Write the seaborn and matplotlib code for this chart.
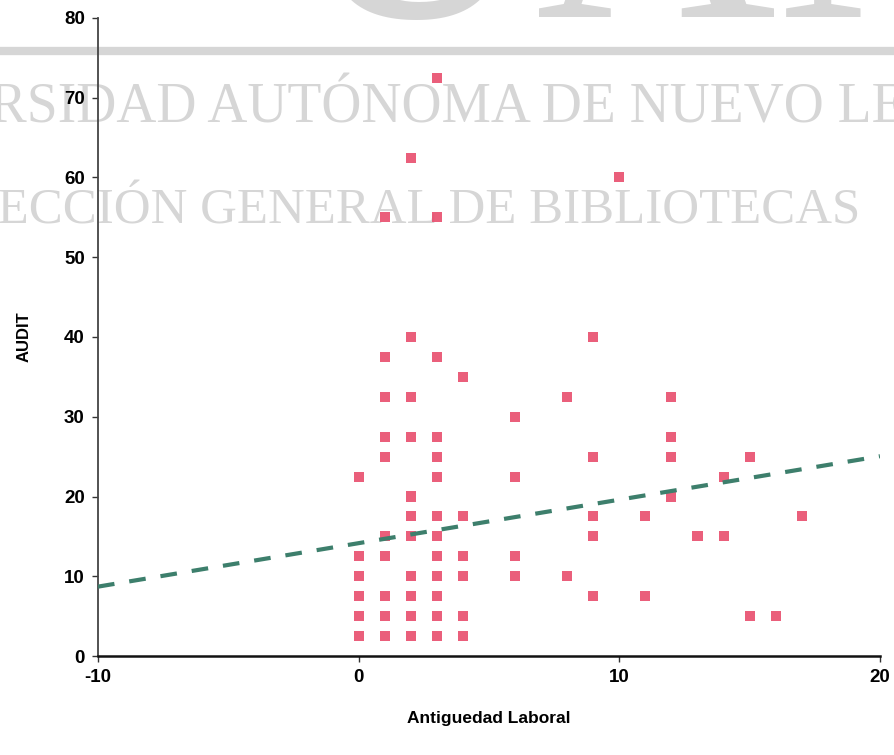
import numpy as np
import pandas as pd
import seaborn as sns
import matplotlib.pyplot as plt

# datos
antiguedad = [0, 0, 0, 0, 0, 0,
              1, 1, 1, 1, 1, 1, 1, 1, 1, 1,
              2, 2, 2, 2, 2, 2, 2, 2, 2, 2, 2,
              3, 3, 3, 3, 3, 3, 3, 3, 3, 3, 3, 3, 3,
              4, 4, 4, 4, 4, 4,
              6, 6, 6, 6,
              8, 8,
              9, 9, 9, 9, 9,
              10,
              11, 11,
              12, 12, 12, 12,
              13,
              14, 14,
              15, 15,
              16,
              17]
audit = [22.5, 12.5, 10, 7.5, 5, 2.5,
         55, 37.5, 32.5, 27.5, 25, 15, 12.5, 7.5, 5, 2.5,
         62.5, 40, 32.5, 27.5, 20, 17.5, 15, 10, 7.5, 5, 2.5,
         72.5, 55, 37.5, 27.5, 25, 22.5, 17.5, 15, 12.5, 10, 7.5, 5, 2.5,
         35, 17.5, 12.5, 10, 5, 2.5,
         30, 22.5, 12.5, 10,
         32.5, 10,
         40, 25, 17.5, 15, 7.5,
         60,
         17.5, 7.5,
         32.5, 27.5, 25, 20,
         15,
         22.5, 15,
         25, 5,
         5,
         17.5]

# recta de ajuste
fit_intercept = 14.15
fit_slope = 0.545

x_ticks = [-10, 0, 10, 20]
y_ticks = [0, 10, 20, 30, 40, 50, 60, 70, 80]

df = pd.DataFrame({"Antiguedad Laboral": antiguedad, "AUDIT": audit})

sns.set_style("ticks")
plt.rcParams["font.family"] = ["Liberation Sans", "DejaVu Sans"]
plt.rcParams["axes.unicode_minus"] = False

fig, ax = plt.subplots(figsize=(8.94, 7.55), dpi=100)
fig.subplots_adjust(left=0.1096, right=0.9843, bottom=0.1311, top=0.9762)
ax.set_facecolor("none")

# marca de agua de fondo
wm = "#d6d6d6"
fig.text(0.33, 0.9775, "UANL", fontsize=240, color=wm, family="Liberation Serif",
         ha="left", va="baseline", zorder=-2)
fig.add_artist(plt.Line2D([0, 1], [0.9325, 0.9325], transform=fig.transFigure,
                          color=wm, linewidth=6, zorder=-2))
fig.text(-0.205, 0.838, "UNIVERSIDAD AUTÓNOMA DE NUEVO LEÓN", fontsize=40,
         color=wm, family="Liberation Serif", ha="left", va="baseline", zorder=-2)
fig.text(-0.1007, 0.7046, "DIRECCIÓN GENERAL DE BIBLIOTECAS", fontsize=36.6,
         color=wm, family="Liberation Serif", ha="left", va="baseline", zorder=-2)

sns.scatterplot(data=df, x="Antiguedad Laboral", y="AUDIT", marker="s", s=52,
                color="#e84d6d", edgecolor="none", alpha=0.9, ax=ax, zorder=3)

ax.set_xlim(-10, 20)
ax.set_ylim(0, 80)

line_x = np.array(ax.get_xlim())
line_y = fit_intercept + fit_slope * line_x
sns.lineplot(x=line_x, y=line_y, color="#3d7f6c", linewidth=3, ax=ax, zorder=4)
ax.lines[-1].set_dashes((4, 3.6))
ax.lines[-1].set_dash_capstyle("butt")

ax.set_xticks(x_ticks)
ax.set_yticks(y_ticks)
ax.tick_params(axis="both", labelsize=13.5, length=4.5, width=1, pad=5,
               color="#333333", labelcolor="black")
for lab in ax.get_xticklabels() + ax.get_yticklabels():
    lab.set_fontweight("bold")

sns.despine(ax=ax)
ax.spines["left"].set_color("#444444")
ax.spines["left"].set_linewidth(1.3)
ax.spines["bottom"].set_color("#111111")
ax.spines["bottom"].set_linewidth(1.8)

ax.set_xlabel("Antiguedad Laboral", fontsize=12.5, fontweight="bold", color="black")
ax.set_ylabel("AUDIT", fontsize=12, fontweight="bold", color="black")
ax.xaxis.set_label_coords(0.5, -0.086)
ax.yaxis.set_label_coords(-0.085, 0.5)

plt.savefig("out.png", dpi=100)
